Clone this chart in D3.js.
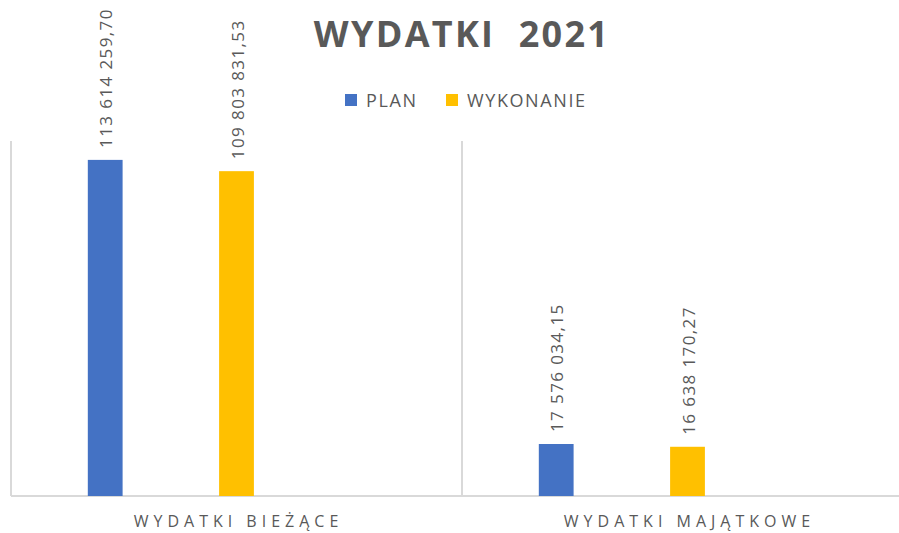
<!DOCTYPE html>
<html>
<head>
<meta charset="utf-8">
<script src="https://cdn.jsdelivr.net/npm/d3@7"></script>
<style>
  body { margin: 0; background: #fff; }
  svg { display: block; }
</style>
</head>
<body>
<div id="chart"></div>
<script>
// data
const categories = ["WYDATKI BIEŻĄCE", "WYDATKI MAJĄTKOWE"];
const seriesNames = ["PLAN", "WYKONANIE"];
const planValues = [113614259.70, 17576034.15];
const wykonanieValues = [109803831.53, 16638170.27];
const valueLabels = [
    ["113 614 259,70", "109 803 831,53"],
    ["17 576 034,15", "16 638 170,27"]
];
const yMax = 120000000;

const colors = { PLAN: "#4472C4", WYKONANIE: "#FFC000" };
const textColor = "#595959";
const gridColor = "#d9d9d9";
const font = "'Open Sans', 'Noto Sans', sans-serif";

const width = 899, height = 533;
const plot = { left: 11, top: 141, bottom: 496, bandWidth: 451 };

const svg = d3.select("#chart").append("svg")
    .attr("width", width)
    .attr("height", height);

// scales
const x0 = d3.scaleBand()
    .domain(categories)
    .range([plot.left, plot.left + plot.bandWidth * categories.length])
    .padding(0);

// Excel leaves room for a third (empty) series slot in each group
const x1 = d3.scaleBand()
    .domain([...seriesNames, "_empty"])
    .range([0, x0.bandwidth()])
    .paddingInner(0.735)
    .paddingOuter(0.585);

const y = d3.scaleLinear()
    .domain([0, yMax])
    .range([plot.bottom, plot.top]);

// gridlines: vertical category separators + baseline
const sepX = [x0.range()[0], x0(categories[1])];
svg.selectAll(".sep")
    .data(sepX)
    .enter()
    .append("line")
    .attr("class", "sep")
    .attr("x1", d => d).attr("x2", d => d)
    .attr("y1", y(yMax)).attr("y2", y(0))
    .attr("stroke", gridColor)
    .attr("stroke-width", 2);

svg.append("line")
    .attr("x1", x0.range()[0]).attr("x2", width)
    .attr("y1", y(0)).attr("y2", y(0))
    .attr("stroke", gridColor)
    .attr("stroke-width", 2);

// bars
const rows = categories.map((c, i) => ({
    category: c,
    values: [
        { key: "PLAN", value: planValues[i], label: valueLabels[i][0] },
        { key: "WYKONANIE", value: wykonanieValues[i], label: valueLabels[i][1] }
    ]
}));

const groups = svg.selectAll(".group")
    .data(rows)
    .enter()
    .append("g")
    .attr("class", "group")
    .attr("transform", d => `translate(${x0(d.category)},0)`);

groups.selectAll("rect")
    .data(d => d.values)
    .enter()
    .append("rect")
    .attr("x", d => x1(d.key))
    .attr("width", x1.bandwidth())
    .attr("y", d => y(d.value))
    .attr("height", d => y(0) - y(d.value))
    .attr("fill", d => colors[d.key]);

// rotated value labels
groups.selectAll(".val")
    .data(d => d.values)
    .enter()
    .append("text")
    .attr("class", "val")
    .attr("transform", d => `translate(${x1(d.key) + x1.bandwidth() / 2 + 7},${y(d.value) - 12}) rotate(-90)`)
    .attr("font-family", font)
    .attr("font-size", 17)
    .attr("letter-spacing", 1.4)
    .attr("fill", textColor)
    .text(d => d.label);

// category axis labels
svg.selectAll(".cat")
    .data(categories)
    .enter()
    .append("text")
    .attr("class", "cat")
    .attr("x", d => x0(d) + x0.bandwidth() / 2 + 2)
    .attr("y", 527)
    .attr("text-anchor", "middle")
    .attr("font-family", font)
    .attr("font-size", 16)
    .attr("letter-spacing", 5)
    .attr("fill", textColor)
    .text(d => d);

// title
svg.append("text")
    .attr("x", 462)
    .attr("y", 47)
    .attr("text-anchor", "middle")
    .attr("font-family", font)
    .attr("font-weight", "bold")
    .attr("font-size", 36)
    .attr("letter-spacing", 2.3)
    .attr("fill", textColor)
    .style("white-space", "pre")
    .text("WYDATKI  2021");

// legend
const legendX = [345, 446];
const legend = svg.selectAll(".legend")
    .data(seriesNames)
    .enter()
    .append("g")
    .attr("class", "legend")
    .attr("transform", (d, i) => `translate(${legendX[i]},94)`);

legend.append("rect")
    .attr("width", 12)
    .attr("height", 12)
    .attr("fill", d => colors[d]);

legend.append("text")
    .attr("x", 21)
    .attr("y", 12.5)
    .attr("font-family", font)
    .attr("font-size", 18)
    .attr("letter-spacing", 1.6)
    .attr("fill", textColor)
    .text(d => d);
</script>
</body>
</html>
